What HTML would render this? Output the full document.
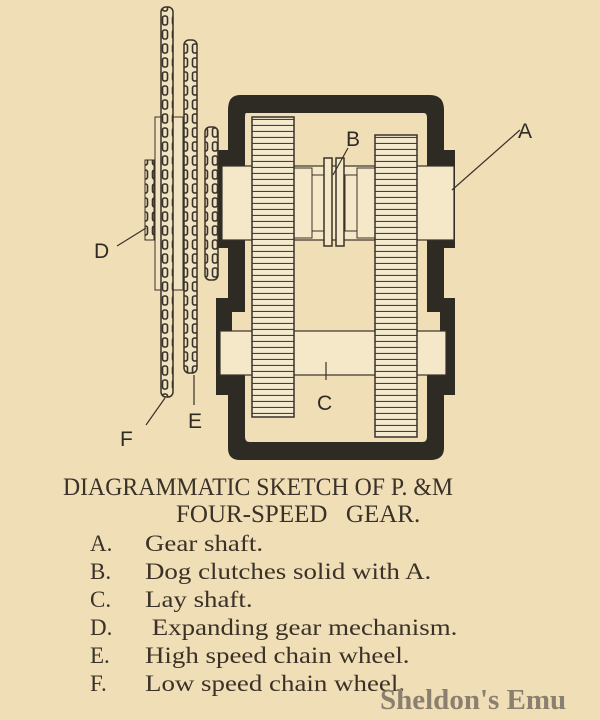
<!DOCTYPE html>
<html><head><style>
html,body{margin:0;padding:0;}
body{width:600px;height:720px;background:#f0deb6;position:relative;overflow:hidden;font-family:"Liberation Serif",serif;color:#3a3228;}
.t{position:absolute;white-space:nowrap;transform-origin:0 0;}
</style></head><body>
<svg width="600" height="470" style="position:absolute;left:0;top:0" xmlns="http://www.w3.org/2000/svg">
<defs>
<pattern id="teeth" width="10" height="6" patternUnits="userSpaceOnUse"><rect width="10" height="6" fill="#f4ead0"/><line x1="0" y1="5.5" x2="10" y2="5.5" stroke="#4a4034" stroke-width="1.2"/></pattern>
<pattern id="chain" width="10" height="14" patternUnits="userSpaceOnUse"><rect width="10" height="14" fill="#efe3c2"/><rect x="2.5" y="2" width="5" height="9" rx="2" fill="none" stroke="#3a3228" stroke-width="1.6"/></pattern>
</defs>
<path d="M240,95 H430 Q444,95 444,110 V150 H455 V248 H444 V298 H455 V395 H444 V448 Q444,460 430,460 H240 Q228,460 228,448 V395 H216 V298 H228 V248 H218 V150 H228 V110 Q228,95 240,95 Z" fill="#2e2a24"/>
<path d="M246,113 H424 Q427,113 427,118 V168 H440 V240 H427 V312 H440 V374 H427 V437 Q427,442 422,442 H250 Q245,442 245,437 V374 H232 V312 H245 V240 H232 V168 H245 V118 Q245,113 246,113 Z" fill="#f0deb6"/>
<rect x="222" y="166" width="232" height="74" fill="#f4e8c8" stroke="#3a3228" stroke-width="1.2"/>
<rect x="220" y="331" width="226" height="44" fill="#f4e8c8" stroke="#3a3228" stroke-width="1.2"/>
<rect x="292" y="168" width="20" height="70" fill="#f4e8c8" stroke="#3a3228"/>
<rect x="357" y="168" width="20" height="70" fill="#f4e8c8" stroke="#3a3228"/>
<rect x="312" y="175" width="12" height="56" fill="#f4e8c8" stroke="#3a3228"/>
<rect x="345" y="175" width="12" height="56" fill="#f4e8c8" stroke="#3a3228"/>
<rect x="324" y="158" width="8" height="88" fill="#f4e8c8" stroke="#3a3228" stroke-width="1.5"/>
<rect x="336" y="158" width="8" height="88" fill="#f4e8c8" stroke="#3a3228" stroke-width="1.5"/>
<rect x="252" y="117" width="42" height="300" fill="url(#teeth)" stroke="#3a3228" stroke-width="1.5"/>
<rect x="375" y="135" width="42" height="302" fill="url(#teeth)" stroke="#3a3228" stroke-width="1.5"/>
<rect x="155" y="117" width="28" height="173" fill="#efe3c2" stroke="#3a3228"/>
<rect x="145" y="160" width="9" height="80" fill="url(#chain)" stroke="#3a3228"/>
<rect x="161" y="7" width="12" height="390" rx="5" fill="url(#chain)" stroke="#3a3228" stroke-width="1.5"/>
<rect x="184" y="40" width="13" height="333" rx="5" fill="url(#chain)" stroke="#3a3228" stroke-width="1.5"/>
<rect x="205" y="127" width="13" height="153" rx="5" fill="url(#chain)" stroke="#3a3228" stroke-width="1.5"/>
<g stroke="#3a3228" stroke-width="1.2" fill="none">
<line x1="520" y1="130" x2="452" y2="190"/>
<line x1="348" y1="148" x2="333" y2="175"/>
<line x1="326" y1="362" x2="326" y2="380"/>
<line x1="117" y1="246" x2="146" y2="228"/>
<line x1="194" y1="375" x2="194" y2="405"/>
<line x1="146" y1="425" x2="165" y2="398"/>
</g>
<g font-family="Liberation Sans,sans-serif" font-size="21" fill="#2e2a24">
<text x="518" y="138">A</text>
<text x="346" y="146">B</text>
<text x="317" y="410">C</text>
<text x="94" y="258">D</text>
<text x="188" y="428">E</text>
<text x="120" y="446">F</text>
</g>
</svg>
<div class="t" style="left:63px;top:474px;font-size:25px;transform:scaleX(0.95)">DIAGRAMMATIC SKETCH OF P. &amp;M</div>
<div class="t" style="left:176px;top:501px;font-size:25px;word-spacing:3px">FOUR-SPEED&nbsp; GEAR.</div>
<div class="t" style="left:90px;top:530px;font-size:23px;line-height:28px">A.<br>B.<br>C.<br>D.<br>E.<br>F.</div>
<div class="t" style="left:145px;top:530px;font-size:23px;line-height:28px;transform:scaleX(1.17)">Gear shaft.<br>Dog clutches solid with A.<br>Lay shaft.<br>&nbsp;Expanding gear mechanism.<br>High speed chain wheel.<br>Low speed chain wheel.</div>
<div class="t" style="left:380px;top:684px;font-size:29px;font-weight:bold;color:#8a8070">Sheldon's Emu</div>
</body></html>
